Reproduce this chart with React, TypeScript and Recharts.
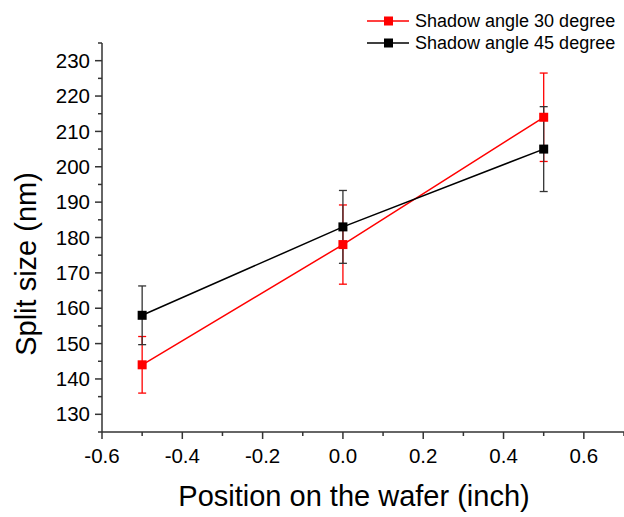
import { LineChart, Line, XAxis, YAxis, ErrorBar, Legend, Label } from "recharts";

const positions = [-0.5, 0.0, 0.5];
const angle30 = [144, 178, 214];
const angle30Err = [8, 11.2, 12.5];
const angle45 = [158, 183, 205];
const angle45Err = [8.3, 10.3, 12];
const seriesNames = ["Shadow angle 30 degree", "Shadow angle 45 degree"];
const xTicks = [-0.6, -0.5, -0.4, -0.3, -0.2, -0.1, 0.0, 0.1, 0.2, 0.3, 0.4, 0.5, 0.6, 0.7];
const yTicks = [125, 130, 135, 140, 145, 150, 155, 160, 165, 170, 175, 180, 185, 190, 195, 200, 205, 210, 215, 220, 225, 230, 235];

const FONT = "'Liberation Sans', Arial, sans-serif";
const AXIS = "#333";
const RED = "#ff0000";
const BLACK = "#000000";

const data30 = positions.map((x, i) => ({ x, y: angle30[i], err: angle30Err[i] }));
const data45 = positions.map((x, i) => ({ x, y: angle45[i], err: angle45Err[i] }));

function squareDot(color: string) {
  return (props: any) => (
    <rect
      key={`${color}-${props.index}`}
      x={props.cx - 4.5}
      y={props.cy - 4.5}
      width={9}
      height={9}
      fill={color}
    />
  );
}

function XTick({ x, y, payload }: any) {
  const v = payload.value;
  const major = Math.round(v * 10) % 2 === 0;
  return (
    <g>
      <line x1={x} x2={x} y1={y} y2={y + (major ? 7 : 4)} stroke={AXIS} strokeWidth={1.5} />
      {major && (
        <text x={x} y={y + 31} textAnchor="middle" fontSize={20.5} fontFamily={FONT} fill="#000">
          {v.toFixed(1)}
        </text>
      )}
    </g>
  );
}

function YTick({ x, y, payload }: any) {
  const v = payload.value;
  const major = v % 10 === 0;
  const showLabel = major && v >= 130 && v <= 230;
  return (
    <g>
      <line x1={x} x2={x - (major ? 7 : 4)} y1={y} y2={y} stroke={AXIS} strokeWidth={1.5} />
      {showLabel && (
        <text x={x - 12} y={y} dy="0.35em" textAnchor="end" fontSize={20.5} fontFamily={FONT} fill="#000">
          {v}
        </text>
      )}
    </g>
  );
}

function LegendBox() {
  const colors = [RED, BLACK];
  return (
    <svg width={264} height={56}>
      {seriesNames.map((name, i) => {
        const cy = 21 + i * 22;
        return (
          <g key={name}>
            <line x1={7} x2={49} y1={cy} y2={cy} stroke={colors[i]} strokeWidth={1.5} />
            <rect x={24} y={cy - 4.5} width={9} height={9} fill={colors[i]} />
            <text x={55} y={cy} dy="0.35em" fontSize={18} fontFamily={FONT} fill="#000">
              {name}
            </text>
          </g>
        );
      })}
    </svg>
  );
}

export default function App() {
  return (
    <div style={{ position: "absolute", left: 0, top: 0, background: "#fff" }}>
      <LineChart width={624} height={517} margin={{ top: 43, right: 0, bottom: 0, left: 0 }}>
        <XAxis
          type="number"
          dataKey="x"
          domain={[-0.6, 0.7]}
          ticks={xTicks}
          allowDataOverflow
          height={85}
          tickSize={0}
          tickMargin={0}
          tickLine={false}
          tick={<XTick />}
          interval={0}
          axisLine={{ stroke: AXIS, strokeWidth: 1.5 }}
        >
          <Label
            content={() => (
              <text x={354} y={506} textAnchor="middle" fontSize={29} fontFamily={FONT} fill="#000">
                Position on the wafer (inch)
              </text>
            )}
          />
        </XAxis>
        <YAxis
          type="number"
          domain={[125, 235]}
          ticks={yTicks}
          allowDataOverflow
          width={102}
          tickSize={0}
          tickMargin={0}
          tickLine={false}
          tick={<YTick />}
          interval={0}
          axisLine={{ stroke: AXIS, strokeWidth: 1.5 }}
        >
          <Label
            content={() => (
              <text
                x={36}
                y={264}
                transform="rotate(-90 36 264)"
                textAnchor="middle"
                fontSize={29}
                fontFamily={FONT}
                fill="#000"
              >
                Split size (nm)
              </text>
            )}
          />
        </YAxis>
        <Legend
          layout="horizontal"
          verticalAlign="middle"
          align="center"
          wrapperStyle={{ top: 0, left: 360, width: 264, height: 56 }}
          content={() => <LegendBox />}
        />
        <Line
          data={data30}
          dataKey="y"
          name={seriesNames[0]}
          stroke={RED}
          strokeWidth={1.5}
          dot={squareDot(RED)}
          activeDot={false}
          isAnimationActive={false}
        >
          <ErrorBar dataKey="err" direction="y" width={4} stroke={RED} strokeWidth={1.3} />
        </Line>
        <Line
          data={data45}
          dataKey="y"
          name={seriesNames[1]}
          stroke={BLACK}
          strokeWidth={1.5}
          dot={squareDot(BLACK)}
          activeDot={false}
          isAnimationActive={false}
        >
          <ErrorBar dataKey="err" direction="y" width={4} stroke="#333" strokeWidth={1.3} />
        </Line>
      </LineChart>
    </div>
  );
}
